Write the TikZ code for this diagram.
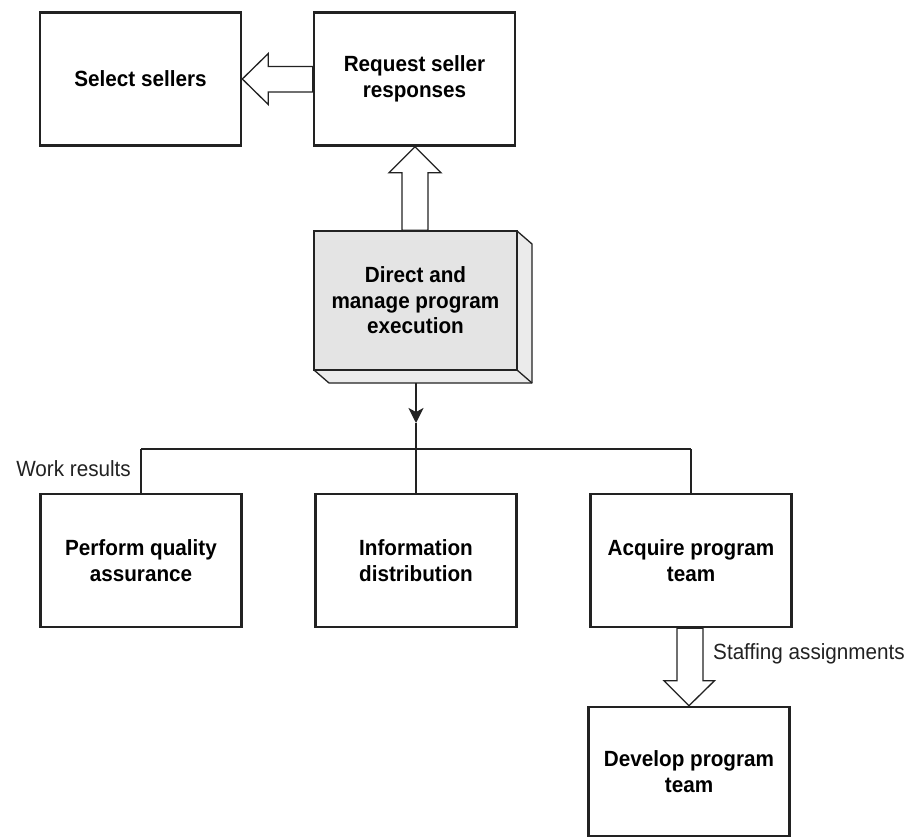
\documentclass[tikz,border=0pt]{standalone}
\usepackage{fontspec}
\setmainfont{Liberation Sans}[FakeStretch=0.94]
\usetikzlibrary{calc,arrows.meta}
\definecolor{ink}{HTML}{222222}
\definecolor{facegray}{HTML}{E4E4E4}
\definecolor{sidegray}{HTML}{EBEBEB}
\begin{document}
\begin{tikzpicture}[x=1pt,y=-1pt,
  box/.style={draw=ink,line width=2.6pt,fill=white,minimum width=201pt,minimum height=133pt,
    align=center,inner sep=0pt,font=\fontsize{22}{25.5}\selectfont\bfseries},
  hollow/.style={draw=ink,line width=1.3pt,fill=white,line join=miter},
  conn/.style={draw=ink,line width=2.2pt},
  lbl/.style={font=\fontsize{22}{25.5}\selectfont,inner sep=0pt,text=ink}]
\useasboundingbox (0,0) rectangle (913,838);
\fill[white] (0,0) rectangle (913,838);

% top row
\node[box] (sel) at (140.5,79) {Select sellers};
\node[box] (req) at (414.5,79) {Request seller\\responses};

% 3D box
\fill[sidegray,draw=ink,line width=1.3pt,line join=round]
  (517,231) -- (532,244) -- (532,383) -- (329,383) -- (314,370) -- (517,370) -- cycle;
\draw[ink,line width=1.3pt] (517,370) -- (532,383);
\node[box,fill=facegray,line width=1.6pt,minimum width=203pt,minimum height=139pt] (dir) at (415.5,300.5)
  {Direct and\\manage program\\execution};

% bottom row
\node[box] (pqa) at (141,560.5) {Perform quality\\assurance};
\node[box] (inf) at (416,560.5) {Information\\distribution};
\node[box] (acq) at (691,560.5) {Acquire program\\team};
\node[box,minimum height=129pt] (dev) at (689,771.5) {Develop program\\team};

% hollow arrow: request -> select (leftwards)
\filldraw[hollow] (sel.east) -- ($(sel.east)+(26,-25.5)$) -- ($(sel.east)+(26,-12.5)$)
  -- ($(req.west)+(0,-12.5)$) -- ($(req.west)+(0,13)$) -- ($(sel.east)+(26,13)$)
  -- ($(sel.east)+(26,25.5)$) -- cycle;

% hollow arrow: direct -> request (upwards)
\filldraw[hollow] ($(req.south)+(0.5,0)$) -- ($(req.south)+(26.5,26)$) -- ($(req.south)+(13.5,26)$)
  -- ($(dir.north)+(12.5,0)$) -- ($(dir.north)+(-13.5,0)$) -- ($(req.south)+(-12.5,26)$)
  -- ($(req.south)+(-25.5,26)$) -- cycle;

% hollow arrow: acquire -> develop (downwards)
\filldraw[hollow] (dev.north) -- ($(dev.north)+(25.5,-25)$) -- ($(dev.north)+(14,-25)$)
  -- ($(acq.south)+(12,0)$) -- ($(acq.south)+(-14,0)$) -- ($(dev.north)+(-12,-25)$)
  -- ($(dev.north)+(-25,-25)$) -- cycle;

% direct -> distribution bus
\coordinate (dsrc) at (416,383);
\coordinate (dtip) at (416,423);
\coordinate (bus) at (416,449);
\coordinate (busL) at (141,449);
\coordinate (busR) at (691,449);
\draw[conn,-{Stealth[length=15pt,width=15pt,inset=4pt]}] (dsrc) -- (dtip);
\draw[conn] (dtip) -- (bus);
\draw[conn] (busL) -- (busR);
\draw[conn] (busL) -- (pqa.north);
\draw[conn] (bus) -- (inf.north);
\draw[conn] (busR) -- (acq.north);

% labels
\node[lbl,anchor=east] (wr) at (131,469) {Work results};
\node[lbl,anchor=west] (sa) at (713,654) {Staffing assignments};
\end{tikzpicture}
\end{document}
